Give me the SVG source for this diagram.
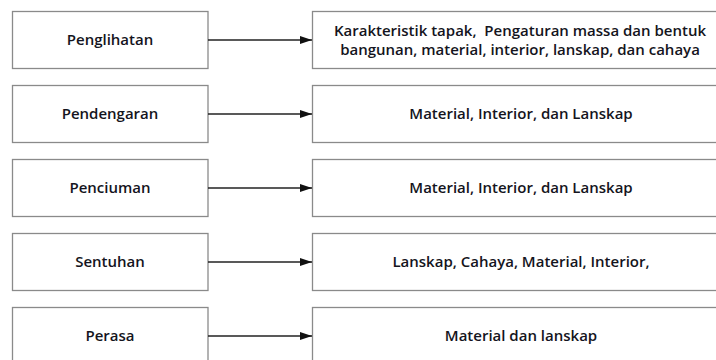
<svg xmlns="http://www.w3.org/2000/svg" width="716" height="360" viewBox="0 0 716 360">
  <defs>
    <marker id="arrow" markerWidth="12" markerHeight="8" refX="12" refY="4" orient="auto" markerUnits="userSpaceOnUse">
      <path d="M0,0 L12,4 L0,8 Z" fill="#111"/>
    </marker>
    <style>
      .box { fill: #fff; stroke: #8a8a8a; stroke-width: 1.3; }
      .lbl { font-family: "Open Sans", "Noto Sans", sans-serif; font-size: 15px; font-weight: 600; fill: #141420; text-anchor: middle; }
      .conn { stroke: #222; stroke-width: 1.3; fill: none; marker-end: url(#arrow); }
    </style>
  </defs>
  <rect width="716" height="360" fill="#fff"/>

  <g id="n-penglihatan">
    <rect class="box" x="12.5" y="11.5" width="195.5" height="57"/>
    <text class="lbl" x="110" y="45">Penglihatan</text>
  </g>
  <g id="n-penglihatan-out">
    <rect class="box" x="312.5" y="11.5" width="420" height="57"/>
    <text class="lbl" x="520" y="36" xml:space="preserve">Karakteristik tapak,  Pengaturan massa dan bentuk</text>
    <text class="lbl" x="520" y="55">bangunan, material, interior, lanskap, dan cahaya</text>
  </g>

  <g id="n-pendengaran">
    <rect class="box" x="12.5" y="85.5" width="195.5" height="57"/>
    <text class="lbl" x="110" y="119">Pendengaran</text>
  </g>
  <g id="n-pendengaran-out">
    <rect class="box" x="312.5" y="85.5" width="420" height="57"/>
    <text class="lbl" x="521" y="119">Material, Interior, dan Lanskap</text>
  </g>

  <g id="n-penciuman">
    <rect class="box" x="12.5" y="159.5" width="195.5" height="57"/>
    <text class="lbl" x="110" y="193">Penciuman</text>
  </g>
  <g id="n-penciuman-out">
    <rect class="box" x="312.5" y="159.5" width="420" height="57"/>
    <text class="lbl" x="521" y="193">Material, Interior, dan Lanskap</text>
  </g>

  <g id="n-sentuhan">
    <rect class="box" x="12.5" y="233.5" width="195.5" height="57"/>
    <text class="lbl" x="110" y="267">Sentuhan</text>
  </g>
  <g id="n-sentuhan-out">
    <rect class="box" x="312.5" y="233.5" width="420" height="57"/>
    <text class="lbl" x="521" y="267">Lanskap, Cahaya, Material, Interior,</text>
  </g>

  <g id="n-perasa">
    <rect class="box" x="12.5" y="307.5" width="195.5" height="57"/>
    <text class="lbl" x="110" y="341">Perasa</text>
  </g>
  <g id="n-perasa-out">
    <rect class="box" x="312.5" y="307.5" width="420" height="57"/>
    <text class="lbl" x="521" y="341">Material dan lanskap</text>
  </g>

  <g id="connectors">
    <line class="conn" x1="208" y1="40" x2="312" y2="40"/>
    <line class="conn" x1="208" y1="114" x2="312" y2="114"/>
    <line class="conn" x1="208" y1="188" x2="312" y2="188"/>
    <line class="conn" x1="208" y1="262" x2="312" y2="262"/>
    <line class="conn" x1="208" y1="336" x2="312" y2="336"/>
  </g>
</svg>
